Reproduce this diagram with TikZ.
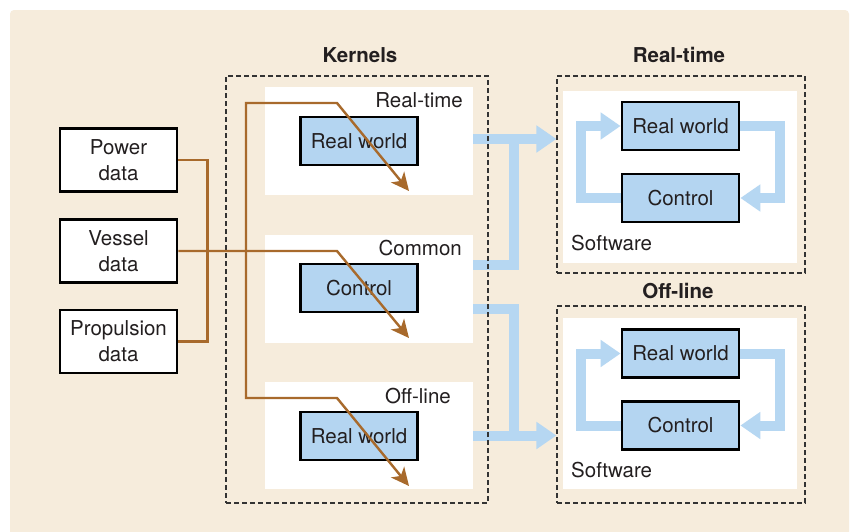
\documentclass[tikz,border=0pt]{standalone}
\usepackage{fontspec}
\setmainfont{TeX Gyre Heros}
\usetikzlibrary{arrows.meta,calc}

\definecolor{paper}{HTML}{F6ECDC}
\definecolor{skyband}{HTML}{B6D7F2}
\definecolor{skyfill}{HTML}{B4D5F1}
\definecolor{rust}{HTML}{A86A2C}
\definecolor{ink}{HTML}{231F20}
\definecolor{frameink}{HTML}{333333}

\pgfdeclarelayer{back}
\pgfdeclarelayer{bands}
\pgfsetlayers{back,bands,main}

\begin{document}
\begin{tikzpicture}[x=1pt,y=-1pt,
  every node/.style={inner sep=0pt, text=ink, font=\fontsize{20.5}{26}\selectfont},
  title/.style={font=\fontsize{20.5}{24}\selectfont\bfseries},
  frame/.style={draw=frameink, line width=1.1pt, dash pattern=on 5pt off 3pt},
  panel/.style={fill=white},
  unit/.style={draw=black, line width=2.8pt, fill=skyfill,
    minimum width=117pt, minimum height=48pt},
  source/.style={draw=black, line width=2.8pt, fill=white,
    minimum width=117pt, minimum height=63pt, align=center},
  feed/.style={draw=rust, line width=2.4pt},
  feedtip/.tip={Stealth[length=18pt,width=17pt,inset=5pt]},
  band/.style={draw=skyband, line width=10pt, line join=miter},
  bandarrow/.style={band, -{Triangle[length=20pt,width=26pt]}},
]
\useasboundingbox (0,0) rectangle (855,531);

% sheet and white panels
\begin{pgfonlayer}{back}
  \fill[white] (0,0) rectangle (855,531);
  \fill[paper, rounded corners=4pt] (10,10) rectangle (849,560);
  \node[panel, minimum width=208pt, minimum height=108pt] (krt) at (369,141) {};
  \node[panel, minimum width=208pt, minimum height=108pt] (kcm) at (369,289) {};
  \node[panel, minimum width=208pt, minimum height=107pt] (kol) at (369,435.5) {};
  \node[panel, minimum width=234pt, minimum height=172pt] (srt) at (680,177) {};
  \node[panel, minimum width=234pt, minimum height=171pt] (sol) at (680,403.5) {};
\end{pgfonlayer}

% dashed groups
\node[frame, minimum width=262pt, minimum height=427pt] (kframe) at (357,289.5) {};
\node[frame, minimum width=248pt, minimum height=197pt] (rtframe) at (681,174.5) {};
\node[frame, minimum width=248pt, minimum height=197pt] (olframe) at (681,404.5) {};

% titles
\node[title, anchor=base] (ktitle) at (360,62) {Kernels};
\node[title, anchor=base] (rttitle) at (679,62) {Real-time};
\node[title, anchor=base] (oltitle) at (678,298) {Off-line};

% kernel panel labels
\node[anchor=base east] (lrt) at (463,107) {Real-time};
\node[anchor=base east] (lcm) at (462,255) {Common};
\node[anchor=base east] (lol) at (451,403) {Off-line};

% kernel units
\node[unit] (k1) at (359,141) {Real world};
\node[unit] (k2) at (359,288) {Control};
\node[unit] (k3) at (359,436) {Real world};

% software loops
\node[unit] (rw1) at (680.5,126) {Real world};
\node[unit] (ct1) at (680.5,198) {Control};
\node[unit] (rw2) at (680.5,353.5) {Real world};
\node[unit] (ct2) at (680.5,425.5) {Control};
\node[anchor=base west] (sw1) at (571,250) {Software};
\node[anchor=base west] (sw2) at (571,477) {Software};

% data sources
\node[source] (power) at (118.5,160) {Power\\data};
\node[source] (vessel) at (118.5,251) {Vessel\\data};
\node[source] (prop) at (118.5,341.5) {Propulsion\\data};

% blue flows
\begin{pgfonlayer}{bands}
  \coordinate (jx) at (514,0);
  \draw[bandarrow] ([yshift=2pt]krt.east) coordinate (rtsrc) -- (rtsrc -| rtframe.west);
  \draw[band] ([yshift=24pt]kcm.east) -| (jx |- rtsrc);
  \draw[band] ([yshift=-20pt]kcm.east) -| (jx |- kol.east);
  \draw[bandarrow] (kol.east) -- (kol.east -| olframe.west);

  \draw[bandarrow] (rw1.east) -- ++(40,0) |- (ct1.east);
  \draw[bandarrow] (ct1.west) -- ++(-40,0) |- (rw1.west);
  \draw[bandarrow] (rw2.east) -- ++(40,0) |- (ct2.east);
  \draw[bandarrow] (ct2.west) -- ++(-40,0) |- (rw2.west);
\end{pgfonlayer}

% data feeds
\coordinate (bendRT) at (337,103);
\coordinate (bendCM) at (337,251);
\coordinate (bendOL) at (337,398);
\coordinate (busTop) at (246,103);
\coordinate (busBot) at (246,398);
\coordinate (tipRT) at (409,191);
\coordinate (tipCM) at (409,338);
\coordinate (tipOL) at (409,486);

\draw[feed] (power.east) -- ++(29,0) |- (prop.east);
\draw[feed, -feedtip] (vessel.east) -- (bendCM) -- (tipCM);
\draw[feed, feedtip-feedtip] (tipRT) -- (bendRT) -- (busTop) -- (busBot) -- (bendOL) -- (tipOL);
\end{tikzpicture}
\end{document}
